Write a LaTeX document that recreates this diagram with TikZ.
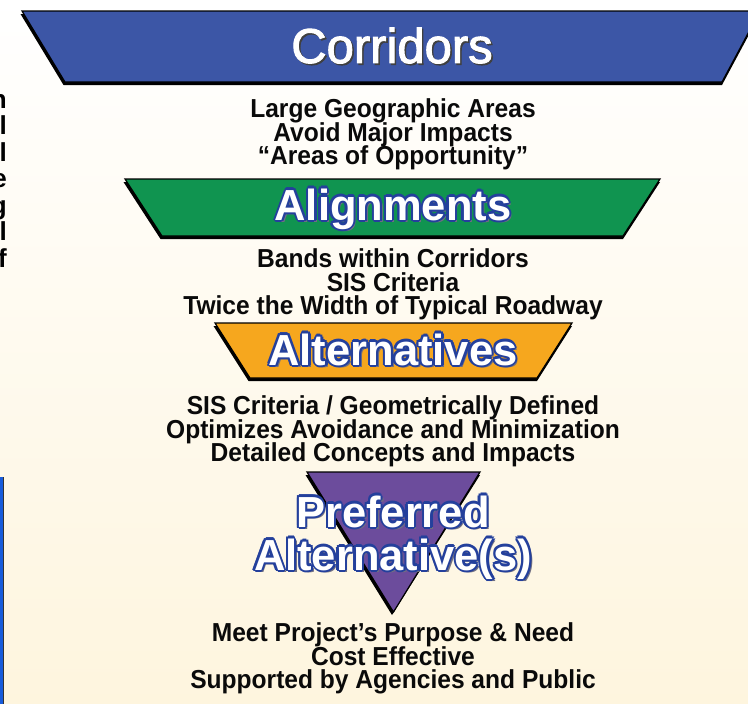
\documentclass[tikz,border=0pt]{standalone}
\usepackage{fontspec}
\setmainfont{Liberation Sans}
\newfontfamily\bodyfont[FakeStretch=0.945]{Liberation Sans Bold}
\newfontfamily\headfont{Liberation Sans}[BoldFont={Liberation Sans Bold}]
\newfontfamily\corrfont[FakeBold=2]{Liberation Sans}
\newfontfamily\edgefont{Liberation Sans Bold}
\definecolor{bgtop}{RGB}{255,255,255}
\definecolor{bgbot}{RGB}{254,245,222}
\definecolor{corrblue}{RGB}{60,86,166}
\definecolor{aligngreen}{RGB}{16,148,80}
\definecolor{altorange}{RGB}{246,167,30}
\definecolor{prefpurple}{RGB}{108,76,156}
\definecolor{olb}{RGB}{36,64,156}
\definecolor{shd}{RGB}{110,110,130}
\definecolor{barblue}{RGB}{24,92,220}
\definecolor{bodyblack}{RGB}{10,10,10}
\newcommand\cpy[3]{\rlap{\hspace*{#1}\raisebox{#2}{#3}}}
\newcommand\otext[1]{%
  \cpy{2.6pt}{-2.6pt}{\color{shd}#1}%
  \cpy{-2.2pt}{0pt}{\color{olb}#1}\cpy{2.2pt}{0pt}{\color{olb}#1}%
  \cpy{0pt}{2.2pt}{\color{olb}#1}\cpy{0pt}{-2.2pt}{\color{olb}#1}%
  \cpy{1.55pt}{1.55pt}{\color{olb}#1}\cpy{-1.55pt}{1.55pt}{\color{olb}#1}%
  \cpy{1.55pt}{-1.55pt}{\color{olb}#1}\cpy{-1.55pt}{-1.55pt}{\color{olb}#1}%
  {\color{white}#1}}
\newcommand\stext[1]{%
  \cpy{1.6pt}{-1.6pt}{\color{black!75}#1}%
  {\color{white}#1}}
\tikzset{
  shadowshape/.style={fill=black},
  bandshape/.style={draw=black, line width=1.2pt, line join=miter},
  bodyline/.style={anchor=base, inner sep=0pt, font=\bodyfont\fontsize{26}{26}\selectfont, text=bodyblack},
  headline/.style={anchor=base, inner sep=0pt, font=\headfont\bfseries\fontsize{43.5}{43.5}\selectfont},
  edgeletter/.style={anchor=base east, inner sep=0pt, font=\edgefont\fontsize{26}{26}\selectfont, text=black}
}
\begin{document}
\begin{tikzpicture}[x=1pt,y=-1pt]
\useasboundingbox (0,0) rectangle (748,704);
\shade[top color=bgtop, bottom color=bgbot] (0,0) rectangle (748,704);
% left edge fragments (cut off by the picture's left edge)
\node[edgeletter] (e1) at (7,108) {n};
\node[edgeletter] (e2) at (7,134.5) {l};
\node[edgeletter] (e3) at (7,161) {l};
\node[edgeletter] (e4) at (7,187.5) {e};
\node[edgeletter] (e5) at (7,214) {g};
\node[edgeletter] (e6) at (7,240.5) {l};
\node[edgeletter] (e7) at (7,267) {f};
% blue bar at left
\fill[barblue] (0,477) rectangle (3,704);
\fill[black!80] (3,477) rectangle (3.8,704);
% Corridors band
\fill[shadowshape] (20.5,14) -- (760,14) -- (722,85) -- (63.5,85) -- cycle;
\draw[bandshape, fill=corrblue] (22,11) -- (760,11) -- (722,82) -- (65,82) -- cycle;
\node[anchor=base, inner sep=0pt, font=\corrfont\fontsize{49}{49}\selectfont] (corr) at (392,63) {\stext{Corridors}};
% text block 1
\node[bodyline] (t1a) at (393,117.5) {Large Geographic Areas};
\node[bodyline] (t1b) at (393,141) {Avoid Major Impacts};
\node[bodyline] (t1c) at (393,164.5) {“Areas of Opportunity”};
% Alignments band
\fill[shadowshape] (123.5,182) -- (660,182) -- (623,239) -- (160.5,239) -- cycle;
\draw[bandshape, fill=aligngreen] (125,179) -- (660,179) -- (623,236) -- (162,236) -- cycle;
\node[headline] (align) at (393,220) {\otext{Alignments}};
% text block 2
\node[bodyline] (t2a) at (393,267.5) {Bands within Corridors};
\node[bodyline] (t2b) at (393,291) {SIS Criteria};
\node[bodyline] (t2c) at (393,314.5) {Twice the Width of Typical Roadway};
% Alternatives band
\fill[shadowshape] (213.5,326) -- (572,326) -- (537,381) -- (248.5,381) -- cycle;
\draw[bandshape, fill=altorange] (215,323) -- (572,323) -- (537,378) -- (250,378) -- cycle;
\node[headline] (alt) at (393,365) {\otext{Alternatives}};
% text block 3
\node[bodyline] (t3a) at (393,414.5) {SIS Criteria / Geometrically Defined};
\node[bodyline] (t3b) at (393,438) {Optimizes Avoidance and Minimization};
\node[bodyline] (t3c) at (393,461.5) {Detailed Concepts and Impacts};
% Preferred triangle
\fill[shadowshape] (305.5,475) -- (480,475) -- (392,615) -- cycle;
\draw[bandshape, fill=prefpurple] (307,472) -- (480,472) -- (393.5,612) -- cycle;
\node[headline] (pref1) at (393,527) {\otext{Preferred}};
\node[headline] (pref2) at (393,570) {\otext{Alternative(s)}};
% text block 4
\node[bodyline] (t4a) at (393,641.5) {Meet Project’s Purpose \& Need};
\node[bodyline] (t4b) at (393,665) {Cost Effective};
\node[bodyline] (t4c) at (393,688.5) {Supported by Agencies and Public};
\end{tikzpicture}
\end{document}
